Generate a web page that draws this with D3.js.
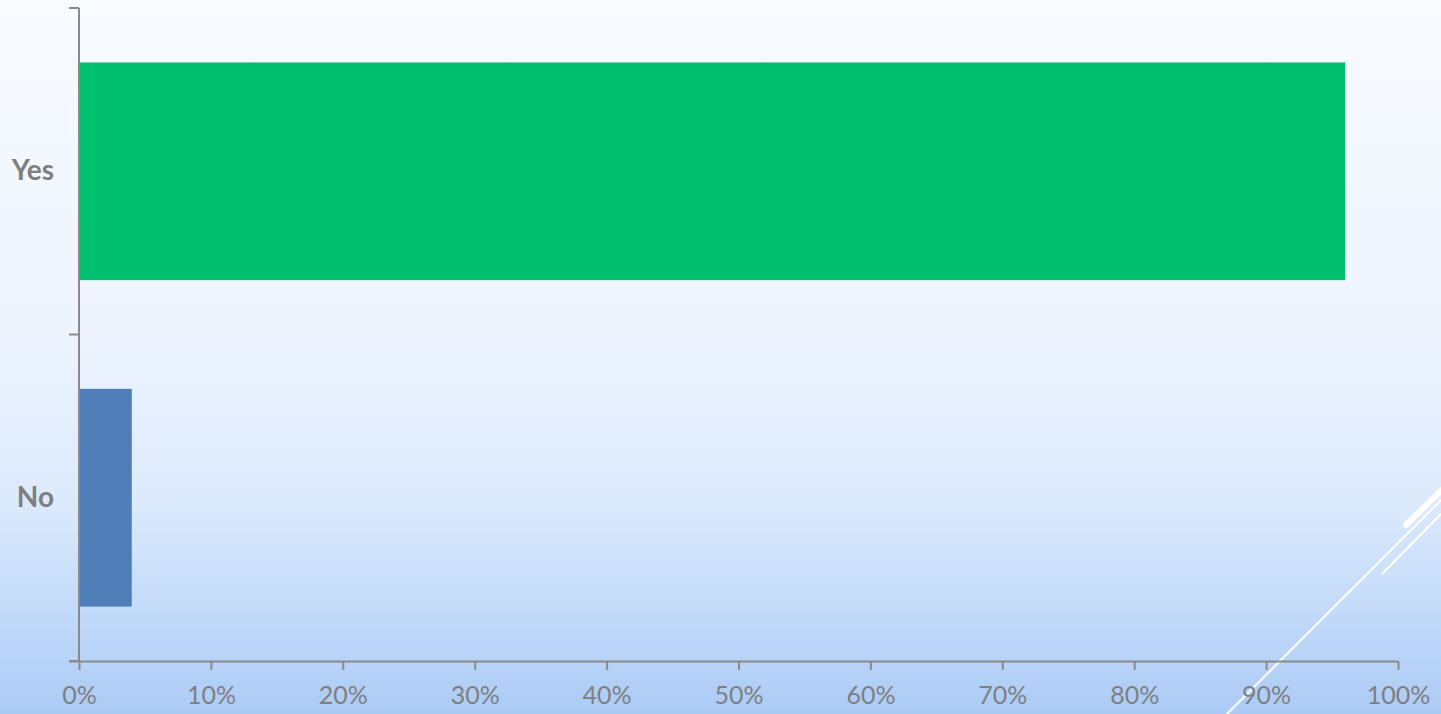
<!DOCTYPE html>
<html>
<head>
<meta charset="utf-8">
<script src="https://cdn.jsdelivr.net/npm/d3@7"></script>
<style>
  html, body { margin: 0; padding: 0; overflow: hidden; }
  body { width: 1441px; height: 714px; }
  svg { display: block; }
</style>
</head>
<body>
<div id="chart"></div>
<script>
// --- DATA ---
const categories = ["Yes", "No"];
const shares = [96, 4];            // percent of respondents
const barColors = ["#00BF6F", "#4F7DB8"];
const xTicks = [0, 10, 20, 30, 40, 50, 60, 70, 80, 90, 100];

// --- SETUP ---
const width = 1441;
const height = 714;
const margin = { top: 8, right: 43, bottom: 53, left: 79 };
const boundsWidth = width - margin.left - margin.right;
const boundsHeight = height - margin.top - margin.bottom;

const svg = d3.select("#chart").append("svg")
    .attr("width", width).attr("height", height);

// background gradient (slide style)
const defs = svg.append("defs");
const grad = defs.append("linearGradient")
    .attr("id", "bg").attr("x1", 0).attr("y1", 0).attr("x2", 0).attr("y2", 1);
[["0%", "#f8fbff"], ["45%", "#eef4fe"], ["70%", "#dceafc"], ["100%", "#abcbf6"]]
    .forEach(([o, c]) => grad.append("stop").attr("offset", o).attr("stop-color", c));
svg.append("rect").attr("width", width).attr("height", height).attr("fill", "url(#bg)");

// decorative white strokes bottom-right
const deco = svg.append("g").attr("stroke", "#fff").attr("stroke-linecap", "round");
deco.append("line").attr("x1", 1227).attr("y1", 714).attr("x2", 1441).attr("y2", 500).attr("stroke-width", 2);
deco.append("line").attr("x1", 1382).attr("y1", 574).attr("x2", 1441).attr("y2", 514).attr("stroke-width", 2);
deco.append("line").attr("x1", 1406).attr("y1", 525).attr("x2", 1445).attr("y2", 487).attr("stroke-width", 6);

const bounds = svg.append("g")
    .attr("transform", `translate(${margin.left},${margin.top})`);

// --- SCALES ---
const xScale = d3.scaleLinear().domain([0, 100]).range([0, boundsWidth]);
const yScale = d3.scaleBand()
    .domain(categories)
    .range([0, boundsHeight])
    .paddingInner(0.333)
    .paddingOuter(0.1667);

const textColor = "#7f7f7f";
const axisColor = "#8a8a8a";
const fontFamily = "Lato, 'Open Sans', sans-serif";

// --- BARS ---
bounds.selectAll(".bar")
    .data(categories).enter().append("rect")
    .attr("class", "bar")
    .attr("x", xScale(0))
    .attr("y", d => yScale(d))
    .attr("width", (d, i) => xScale(shares[i]) - xScale(0))
    .attr("height", yScale.bandwidth())
    .attr("fill", (d, i) => barColors[i]);

// --- X AXIS ---
const xAxis = bounds.append("g")
    .attr("transform", `translate(0,${boundsHeight})`)
    .call(d3.axisBottom(xScale).tickValues(xTicks).tickFormat(d => d + "%")
        .tickSize(9).tickSizeOuter(0).tickPadding(16));
xAxis.select(".domain").attr("stroke", axisColor).attr("stroke-width", 2)
    .attr("d", `M-10,0.5H${boundsWidth}`);
xAxis.selectAll(".tick line").attr("stroke", axisColor).attr("stroke-width", 2);
xAxis.selectAll(".tick text")
    .attr("fill", textColor)
    .style("font-family", fontFamily)
    .style("font-size", "25px");

// --- Y AXIS ---
const yAxis = bounds.append("g")
    .call(d3.axisLeft(yScale).tickSize(0).tickPadding(25));
yAxis.select(".domain").attr("stroke", axisColor).attr("stroke-width", 2)
    .attr("d", `M0,0V${boundsHeight}`);
yAxis.selectAll(".tick text")
    .attr("fill", textColor)
    .style("font-family", fontFamily)
    .style("font-size", "28px")
    .style("font-weight", "bold");

// category boundary ticks
const boundaries = [0, boundsHeight / 2, boundsHeight];
yAxis.selectAll(".sep")
    .data(boundaries).enter().append("line")
    .attr("class", "sep")
    .attr("x1", -10).attr("x2", 0)
    .attr("y1", d => d).attr("y2", d => d)
    .attr("stroke", axisColor).attr("stroke-width", 2);
</script>
</body>
</html>
